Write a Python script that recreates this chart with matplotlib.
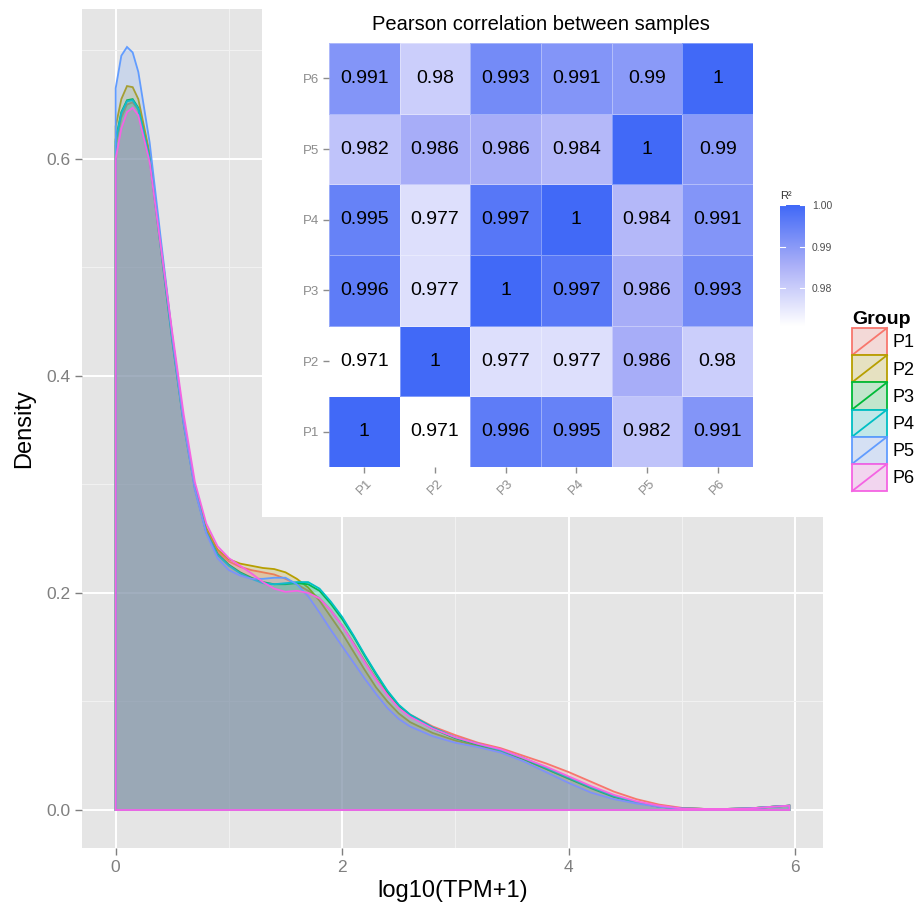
import numpy as np
import matplotlib
matplotlib.use("Agg")
import matplotlib.pyplot as plt
from matplotlib.colors import LinearSegmentedColormap, to_rgba
from matplotlib.legend_handler import HandlerBase
from matplotlib.patches import Rectangle, Patch
from matplotlib.lines import Line2D

plt.rcParams["font.family"] = ["Liberation Sans", "DejaVu Sans"]

# ==========================
# Data
# ==========================

groups = ["P1", "P2", "P3", "P4", "P5", "P6"]
group_colors = ["#F8766D", "#B79F00", "#00BA38", "#00BFC4", "#619CFF", "#F564E3"]

x_grid = [0, 0.05, 0.1, 0.15, 0.2, 0.3, 0.4, 0.5, 0.6, 0.7, 0.8, 0.9, 1.0,
          1.1, 1.2, 1.3, 1.4, 1.5, 1.6, 1.7, 1.8, 1.9, 2.0, 2.1, 2.2, 2.3,
          2.4, 2.5, 2.6, 2.8, 3.0, 3.2, 3.4, 3.6, 3.8, 4.0, 4.2, 4.4, 4.6,
          4.8, 5.0, 5.2, 5.4, 5.6, 5.8, 5.95]

p1 = [0.612, 0.638, 0.650, 0.652, 0.645, 0.600, 0.518, 0.436, 0.360, 0.298, 0.258, 0.238, 0.229,
      0.224, 0.221, 0.219, 0.217, 0.213, 0.208, 0.202, 0.195, 0.184, 0.170, 0.154, 0.137, 0.121,
      0.107, 0.096, 0.088, 0.077, 0.069, 0.062, 0.057, 0.050, 0.043, 0.035, 0.026, 0.017, 0.010,
      0.005, 0.002, 0.001, 0.001, 0.0015, 0.003, 0.004]
p2 = [0.630, 0.655, 0.667, 0.666, 0.655, 0.605, 0.520, 0.435, 0.358, 0.298, 0.260, 0.240, 0.231,
      0.227, 0.225, 0.223, 0.222, 0.219, 0.213, 0.205, 0.193, 0.178, 0.163, 0.146, 0.129, 0.113,
      0.100, 0.089, 0.081, 0.071, 0.064, 0.059, 0.054, 0.047, 0.038, 0.029, 0.021, 0.013, 0.007,
      0.003, 0.0015, 0.001, 0.001, 0.0015, 0.003, 0.004]
p3 = [0.618, 0.643, 0.654, 0.655, 0.647, 0.600, 0.516, 0.432, 0.356, 0.296, 0.256, 0.236, 0.226,
      0.219, 0.214, 0.210, 0.208, 0.208, 0.209, 0.208, 0.202, 0.190, 0.176, 0.160, 0.142, 0.125,
      0.109, 0.096, 0.087, 0.075, 0.066, 0.060, 0.055, 0.047, 0.038, 0.029, 0.020, 0.012, 0.007,
      0.003, 0.0015, 0.001, 0.001, 0.0015, 0.003, 0.004]
p4 = [0.616, 0.642, 0.653, 0.654, 0.646, 0.600, 0.517, 0.433, 0.357, 0.297, 0.256, 0.235, 0.225,
      0.218, 0.213, 0.209, 0.208, 0.209, 0.210, 0.210, 0.204, 0.192, 0.178, 0.161, 0.143, 0.126,
      0.110, 0.097, 0.088, 0.076, 0.067, 0.061, 0.055, 0.048, 0.039, 0.030, 0.021, 0.013, 0.007,
      0.003, 0.0015, 0.001, 0.001, 0.0015, 0.003, 0.004]
p5 = [0.665, 0.695, 0.703, 0.698, 0.680, 0.615, 0.525, 0.437, 0.357, 0.295, 0.255, 0.232, 0.221,
      0.216, 0.213, 0.213, 0.214, 0.214, 0.208, 0.197, 0.182, 0.166, 0.151, 0.136, 0.121, 0.107,
      0.094, 0.084, 0.077, 0.068, 0.062, 0.058, 0.053, 0.045, 0.035, 0.025, 0.016, 0.010, 0.006,
      0.003, 0.0012, 0.001, 0.001, 0.0015, 0.003, 0.004]
p6 = [0.600, 0.628, 0.643, 0.647, 0.640, 0.597, 0.518, 0.440, 0.365, 0.302, 0.264, 0.243, 0.232,
      0.225, 0.218, 0.210, 0.204, 0.201, 0.202, 0.200, 0.195, 0.184, 0.170, 0.153, 0.136, 0.120,
      0.106, 0.094, 0.086, 0.075, 0.067, 0.061, 0.056, 0.048, 0.040, 0.031, 0.022, 0.014, 0.008,
      0.004, 0.0015, 0.001, 0.001, 0.0015, 0.003, 0.004]

densities = [p1, p2, p3, p4, p5, p6]

# correlation matrix, rows P1..P6, columns P1..P6
corr = [
    [1, 0.971, 0.996, 0.995, 0.982, 0.991],
    [0.971, 1, 0.977, 0.977, 0.986, 0.98],
    [0.996, 0.977, 1, 0.997, 0.986, 0.993],
    [0.995, 0.977, 0.997, 1, 0.984, 0.991],
    [0.982, 0.986, 0.986, 0.984, 1, 0.99],
    [0.991, 0.98, 0.993, 0.991, 0.99, 1],
]

# ==========================
# Figure
# ==========================

W, H = 914, 910
fig = plt.figure(figsize=(W / 100, H / 100), dpi=100)


def box(x0, y0, x1, y1):
    # pixel box (top-left origin) -> figure fraction
    return [x0 / W, 1 - y1 / H, (x1 - x0) / W, (y1 - y0) / H]


# ==========================
# Density panel
# ==========================

ax = fig.add_axes(box(82, 9, 823, 848))
ax.set_facecolor("#E5E5E5")
for s in ax.spines.values():
    s.set_visible(False)

xg = np.array(x_grid)
for dens, col in zip(densities, group_colors):
    d = np.array(dens)
    px = np.r_[xg[0], xg, xg[-1], xg[0]]
    py = np.r_[0, d, 0, 0]
    ax.fill(px, py, facecolor=to_rgba(col, 0.2), edgecolor=col, lw=1.3, zorder=3)

ax.set_xlim(-0.2975, 6.2475)
ax.set_ylim(-0.035, 0.738)
ax.set_xticks([0, 2, 4, 6])
ax.set_yticks([0.0, 0.2, 0.4, 0.6])
ax.set_yticklabels(["0.0", "0.2", "0.4", "0.6"])
ax.set_xticks([1, 3, 5], minor=True)
ax.set_yticks([0.1, 0.3, 0.5, 0.7], minor=True)
ax.grid(True, which="major", color="white", lw=1.4, zorder=1)
ax.grid(True, which="minor", color="#F2F2F2", lw=0.7, zorder=1)
ax.set_axisbelow(True)
ax.tick_params(which="major", colors="#7F7F7F", labelsize=12.5, length=5, width=1)
ax.tick_params(which="minor", length=0)
ax.set_xlabel("log10(TPM+1)", fontsize=17, labelpad=4)
ax.set_ylabel("Density", fontsize=17, labelpad=8)

# ==========================
# Inset background
# ==========================

bg = fig.add_axes(box(262, 0, 835, 517))
bg.set_facecolor("white")
bg.set_xticks([])
bg.set_yticks([])
for s in bg.spines.values():
    s.set_visible(False)

# ==========================
# Correlation heatmap
# ==========================

cmap = LinearSegmentedColormap.from_list(
    "r2", [(0, "#FFFFFF"), (0.5, "#ABB0F8"), (1, "#4169F7")])
vmin, vmax = 0.971, 1.0

axh = fig.add_axes(box(329, 43, 753, 467))
mat = np.array(corr)
axh.pcolormesh(mat, cmap=cmap, vmin=vmin, vmax=vmax,
               edgecolors=(1, 1, 1, 0.35), linewidth=0.6)
for i in range(len(groups)):
    for j in range(len(groups)):
        axh.text(j + 0.5, i + 0.5, f"{mat[i, j]:g}", ha="center", va="center",
                 fontsize=14, color="black")
axh.set_xlim(0, 6)
axh.set_ylim(0, 6)
for s in axh.spines.values():
    s.set_visible(False)
axh.set_xticks(np.arange(6) + 0.5)
axh.set_yticks(np.arange(6) + 0.5)
axh.set_xticklabels(groups, rotation=45, ha="center")
axh.set_yticklabels(groups)
axh.tick_params(colors="#8C8C8C", labelsize=9.5, length=4, width=1, pad=3)
axh.set_title("Pearson correlation between samples", fontsize=14.5, pad=9)

# ==========================
# Colour bar
# ==========================

axc = fig.add_axes(box(780, 205, 805, 326))
grad = np.linspace(vmin, vmax, 200).reshape(-1, 1)
axc.imshow(grad, aspect="auto", cmap=cmap, vmin=vmin, vmax=vmax,
           origin="lower", extent=[0, 1, vmin, vmax])
for s in axc.spines.values():
    s.set_visible(False)
axc.set_xticks([])
axc.yaxis.tick_right()
axc.set_yticks([0.98, 0.99, 1.0])
axc.set_yticklabels(["0.98", "0.99", "1.00"])
axc.tick_params(axis="y", length=0, labelsize=7.5, colors="#4D4D4D", pad=5)
for v in [0.98, 0.99, 1.0]:
    axc.plot([0, 0.2], [v, v], color="white", lw=0.8)
    axc.plot([0.8, 1], [v, v], color="white", lw=0.8)
axc.set_xlim(0, 1)
axc.set_ylim(vmin, vmax)
axc.set_title("R²", fontsize=8, loc="left", pad=4, color="#333333")

# ==========================
# Legend
# ==========================


class DiagKey(HandlerBase):
    def create_artists(self, legend, orig_handle, xdescent, ydescent,
                       width, height, fontsize, trans):
        c = orig_handle.get_edgecolor()
        back = Rectangle((-xdescent, -ydescent), width, height,
                         facecolor="#F2F2F2", edgecolor="none", transform=trans)
        rect = Rectangle((-xdescent, -ydescent), width, height,
                         facecolor=to_rgba(c, 0.2), edgecolor=c, lw=1.3,
                         transform=trans)
        diag = Line2D([-xdescent, -xdescent + width],
                      [-ydescent, -ydescent + height], color=c, lw=1.3,
                      transform=trans)
        return [back, rect, diag]


handles = [Patch(edgecolor=c, facecolor=c) for c in group_colors]
leg = fig.legend(handles, groups, handler_map={Patch: DiagKey()},
                 loc="upper left", bbox_to_anchor=(852 / W, 1 - 311 / H),
                 frameon=False, fontsize=13, title="Group",
                 title_fontproperties={"weight": "bold", "size": 14},
                 handlelength=1.94, handleheight=1.94, labelspacing=0,
                 handletextpad=0.33, borderpad=0, borderaxespad=0)
leg._legend_box.align = "left"

fig.savefig("out.png", dpi=100)
